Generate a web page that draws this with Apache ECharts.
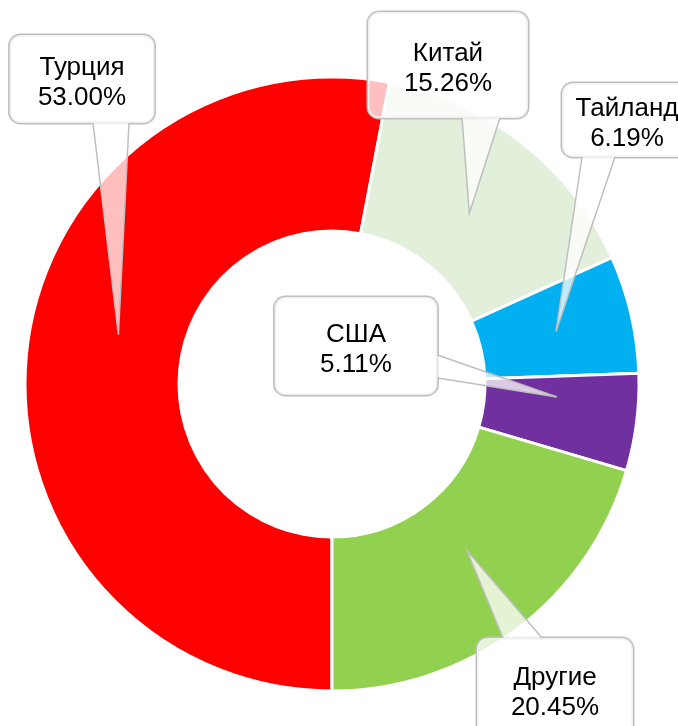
<!DOCTYPE html>
<html>
<head>
<meta charset="utf-8">
<script src="https://cdn.jsdelivr.net/npm/echarts@6/dist/echarts.min.js"></script>
<style>
  html, body { margin: 0; padding: 0; background: #fff; }
  #chart { width: 678px; height: 726px; }
</style>
</head>
<body>
<div id="chart"></div>
<script>
// доли, %
const countries = ['Турция', 'Китай', 'Тайланд', 'США', 'Другие'];
const shares = [53.00, 15.26, 6.19, 5.11, 20.45];
const colors = ['#ff0000', '#e2efda', '#00b0f0', '#7030a0', '#92d050'];

// рамки подписей (центр, ширина, высота)
const boxes = [
  { x: 82, y: 79, w: 145, h: 88 },
  { x: 448, y: 65, w: 160, h: 106 },
  { x: 627, y: 120, w: 130, h: 74 },
  { x: 356, y: 346, w: 163, h: 98 },
  { x: 555, y: 689, w: 156, h: 102 }
];
// указатели: сторона рамки, отрезок на ней, куда смотрит остриё
// angle - доля угла сектора, depth - доля толщины кольца
const pointers = [
  { side: 'bottom', from: 11, to: 47, angle: 0.54, depth: 0.43 },
  { side: 'bottom', from: 14, to: 52, angle: 0.51, depth: 0.43 },
  { side: 'bottom', from: -45, to: -12, angle: 0.5, depth: 0.5 },
  { side: 'right', from: 9, to: 32, angle: 0.29, depth: 0.47 },
  { side: 'top', from: -52, to: -13, angle: 0.47, depth: 0.4 }
];

const chart = echarts.init(document.getElementById('chart'));

const pieData = countries.map((name, i) => ({
  name: name,
  value: shares[i],
  itemStyle: { color: colors[i] },
  label: {
    width: boxes[i].w,
    // текст чуть ниже середины рамки
    padding: [(boxes[i].h - 60) / 2 + 4, 0, (boxes[i].h - 60) / 2 - 4, 0]
  }
}));

chart.setOption({
  animation: false,
  series: [{
    type: 'pie',
    center: [332, 384],
    radius: [153, 307],
    startAngle: 270,
    clockwise: true,
    silent: true,
    itemStyle: { borderColor: '#fff', borderWidth: 3 },
    label: {
      show: true,
      formatter: p => '{t|' + p.name + '}\n{t|' + p.value.toFixed(2) + '%}',
      align: 'center',
      backgroundColor: 'rgba(255,255,255,0.75)',
      borderColor: '#bfbfbf',
      borderWidth: 1.5,
      borderRadius: 11,
      rich: {
        t: {
          fontFamily: 'Liberation Sans, Arial, sans-serif',
          fontSize: 26,
          lineHeight: 30,
          color: '#000',
          align: 'center'
        }
      }
    },
    labelLine: { show: false },
    labelLayout: function (params) {
      const b = boxes[params.dataIndex];
      return { x: b.x, y: b.y, align: 'center', verticalAlign: 'middle' };
    },
    data: pieData
  }]
});

// остриё указателя считаем по раскладке секторов
const seriesData = chart.getModel().getSeriesByIndex(0).getData();
const wedges = pointers.map((p, i) => {
  const L = seriesData.getItemLayout(i);
  const b = boxes[i];
  const a = L.startAngle + p.angle * (L.endAngle - L.startAngle);
  const rr = L.r0 + p.depth * (L.r - L.r0);
  const tip = [L.cx + rr * Math.cos(a), L.cy + rr * Math.sin(a)];
  let b1, b2;
  if (p.side === 'bottom') {
    b1 = [b.x + p.from, b.y + b.h / 2];
    b2 = [b.x + p.to, b.y + b.h / 2];
  } else if (p.side === 'top') {
    b1 = [b.x + p.from, b.y - b.h / 2];
    b2 = [b.x + p.to, b.y - b.h / 2];
  } else {
    b1 = [b.x + b.w / 2, b.y + p.from];
    b2 = [b.x + b.w / 2, b.y + p.to];
  }
  return [
    {
      type: 'polygon',
      z: 100,
      silent: true,
      shape: { points: [b1, tip, b2] },
      style: { fill: 'rgba(255,255,255,0.75)', stroke: null }
    },
    {
      type: 'polyline',
      z: 101,
      silent: true,
      shape: { points: [b1, tip, b2] },
      style: { stroke: '#bfbfbf', lineWidth: 1.5, fill: null }
    }
  ];
});

chart.setOption({ graphic: { elements: [].concat.apply([], wedges) } });
</script>
</body>
</html>
